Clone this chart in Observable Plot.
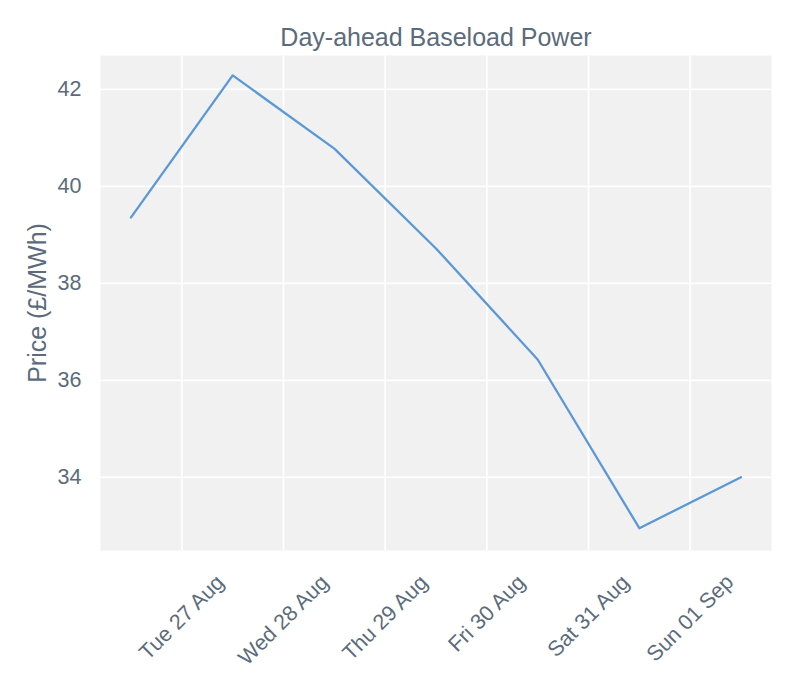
<!DOCTYPE html>
<html>
<head>
<meta charset="utf-8">
<script src="https://cdn.jsdelivr.net/npm/d3@7"></script>
<script src="https://cdn.jsdelivr.net/npm/@observablehq/plot@0.6"></script>
<style>
  body { margin: 0; background: #ffffff; }
  #chart { width: 800px; height: 700px; }
</style>
</head>
<body>
<div id="chart"></div>
<script>
// ---- data ----
const dates = [
  "2024-08-26T12:00:00Z",
  "2024-08-27T12:00:00Z",
  "2024-08-28T12:00:00Z",
  "2024-08-29T12:00:00Z",
  "2024-08-30T12:00:00Z",
  "2024-08-31T12:00:00Z",
  "2024-09-01T12:00:00Z"
];
const prices = [39.36, 42.29, 40.78, 38.72, 36.43, 32.95, 34.00];
const xTickDates = [
  "2024-08-27T00:00:00Z",
  "2024-08-28T00:00:00Z",
  "2024-08-29T00:00:00Z",
  "2024-08-30T00:00:00Z",
  "2024-08-31T00:00:00Z",
  "2024-09-01T00:00:00Z"
];
const yTicks = [34, 36, 38, 40, 42];
const titleText = "Day-ahead Baseload Power";
const yLabelText = "Price (£/MWh)";

// ---- build ----
const data = dates.map((d, i) => ({date: new Date(d), price: prices[i]}));
const ticks = xTickDates.map(d => new Date(d));
const fmt = d3.utcFormat("%a %d %b");

const textColor = "#5b6b7b";
const fontFamily = '"Liberation Sans", Arial, Helvetica, sans-serif';
const tickFont = 21.5;

const first = data[0].date.getTime(), last = data[data.length - 1].date.getTime();
const pad = (last - first) * 0.05;

const ctx = document.createElement("canvas").getContext("2d");
ctx.font = `${tickFont}px "Liberation Sans"`;
const wRef = ctx.measureText(fmt(ticks[0])).width;

const xLabelMarks = ticks.map(t => Plot.text([t], {
  x: d => d,
  text: d => fmt(d),
  frameAnchor: "bottom",
  lineAnchor: "middle",
  textAnchor: "middle",
  rotate: -45,
  fontSize: tickFont,
  fill: textColor,
  dy: 67 + (ctx.measureText(fmt(t)).width - wRef) * 0.354
}));

const chart = Plot.plot({
  width: 800,
  height: 700,
  marginLeft: 100,
  marginRight: 29,
  marginTop: 55,
  marginBottom: 150,
  style: {color: textColor, fontFamily: fontFamily, background: "#ffffff", overflow: "visible"},
  x: {type: "utc", domain: [new Date(first - pad), new Date(last + pad)], axis: null},
  y: {domain: [32.49, 42.70]},
  marks: [
    Plot.frame({fill: "#f1f1f1", stroke: "none"}),
    Plot.gridX(ticks, {stroke: "#ffffff", strokeOpacity: 1, strokeWidth: 1.7}),
    Plot.gridY(yTicks, {stroke: "#ffffff", strokeOpacity: 1, strokeWidth: 1.7}),
    Plot.axisY(yTicks, {tickSize: 0, tickPadding: 19, label: null, fontSize: tickFont, fill: textColor}),
    ...xLabelMarks,
    Plot.line(data, {x: "date", y: "price", stroke: "#5b98d6", strokeWidth: 2.3}),
    Plot.text([titleText], {frameAnchor: "top", lineAnchor: "middle", textAnchor: "middle", dy: -18, fontSize: 25, fill: textColor}),
    Plot.text([yLabelText], {frameAnchor: "left", lineAnchor: "middle", textAnchor: "middle", rotate: -90, dx: -63, fontSize: 25, fill: textColor})
  ]
});
document.getElementById("chart").appendChild(chart);
</script>
</body>
</html>
